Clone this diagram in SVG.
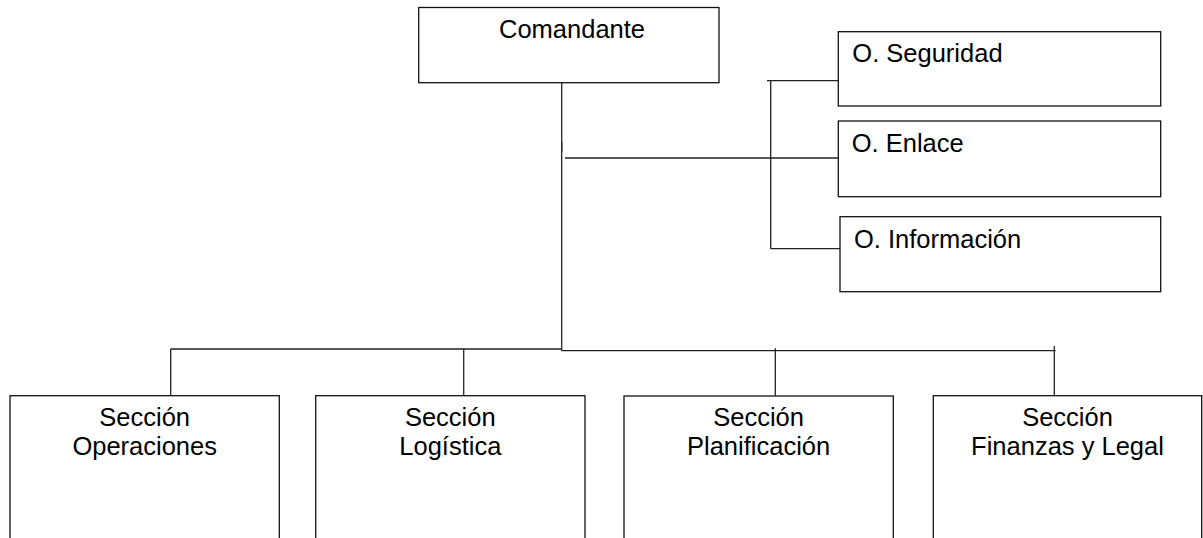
<svg xmlns="http://www.w3.org/2000/svg" width="1203" height="538" viewBox="0 0 1203 538">
  <style>
    .box { fill: #fff; stroke: #111; stroke-width: 1.3; }
    .ln { stroke: #222; stroke-width: 1.3; fill: none; }
    .t { font-family: "Liberation Sans", Arial, sans-serif; font-size: 25.5px; fill: #000; }
    .c { text-anchor: middle; }
  </style>
  <rect width="1203" height="538" fill="#fff"/>
  <g id="connectors">
    <line class="ln" x1="561.7" y1="82.7" x2="561.7" y2="350.7"/>
    <line class="ln" x1="561.7" y1="142" x2="561.7" y2="152" stroke-width="2.6"/>
    <line class="ln" x1="565" y1="158" x2="838.3" y2="158"/>
    <line class="ln" x1="770.7" y1="80.7" x2="770.7" y2="248.7"/>
    <line class="ln" x1="767" y1="80.7" x2="838.3" y2="80.7"/>
    <line class="ln" x1="770.7" y1="248.7" x2="841.7" y2="248.7"/>
    <line class="ln" x1="170.7" y1="349" x2="561.7" y2="349"/>
    <line class="ln" x1="561.7" y1="350.7" x2="1055.7" y2="350.7"/>
    <line class="ln" x1="170.7" y1="349" x2="170.7" y2="398.3"/>
    <line class="ln" x1="463.7" y1="349" x2="463.7" y2="395.7"/>
    <line class="ln" x1="775.3" y1="348.3" x2="775.3" y2="395.7"/>
    <line class="ln" x1="1054.3" y1="346" x2="1054.3" y2="395.7"/>
  </g>
  <g id="comandante">
    <rect class="box" x="418.7" y="7.5" width="300.3" height="75.2"/>
    <text class="t" x="499" y="38">Comandante</text>
  </g>
  <g id="seguridad">
    <rect class="box" x="838.3" y="31.7" width="322.4" height="74.3"/>
    <text class="t" x="852.3" y="62.3">O. Seguridad</text>
  </g>
  <g id="enlace">
    <rect class="box" x="838.3" y="121" width="322.4" height="75.7"/>
    <text class="t" x="851.7" y="151.7">O. Enlace</text>
  </g>
  <g id="informacion">
    <rect class="box" x="840" y="216.7" width="320.7" height="75"/>
    <text class="t" x="854" y="247.7">O. Información</text>
  </g>
  <g id="operaciones">
    <rect class="box" x="10" y="395.7" width="269.3" height="160"/>
    <text class="t c" x="144.7" y="426">Sección</text>
    <text class="t c" x="144.7" y="455">Operaciones</text>
  </g>
  <g id="logistica">
    <rect class="box" x="315.7" y="395.7" width="269.3" height="160"/>
    <text class="t c" x="450.3" y="426">Sección</text>
    <text class="t c" x="450.3" y="455">Logística</text>
  </g>
  <g id="planificacion">
    <rect class="box" x="624" y="396" width="269.3" height="160"/>
    <text class="t c" x="758.6" y="426">Sección</text>
    <text class="t c" x="758.6" y="455">Planificación</text>
  </g>
  <g id="finanzas">
    <rect class="box" x="933.3" y="395.7" width="268.4" height="160"/>
    <text class="t c" x="1067.5" y="426">Sección</text>
    <text class="t c" x="1067.5" y="455">Finanzas y Legal</text>
  </g>
</svg>
